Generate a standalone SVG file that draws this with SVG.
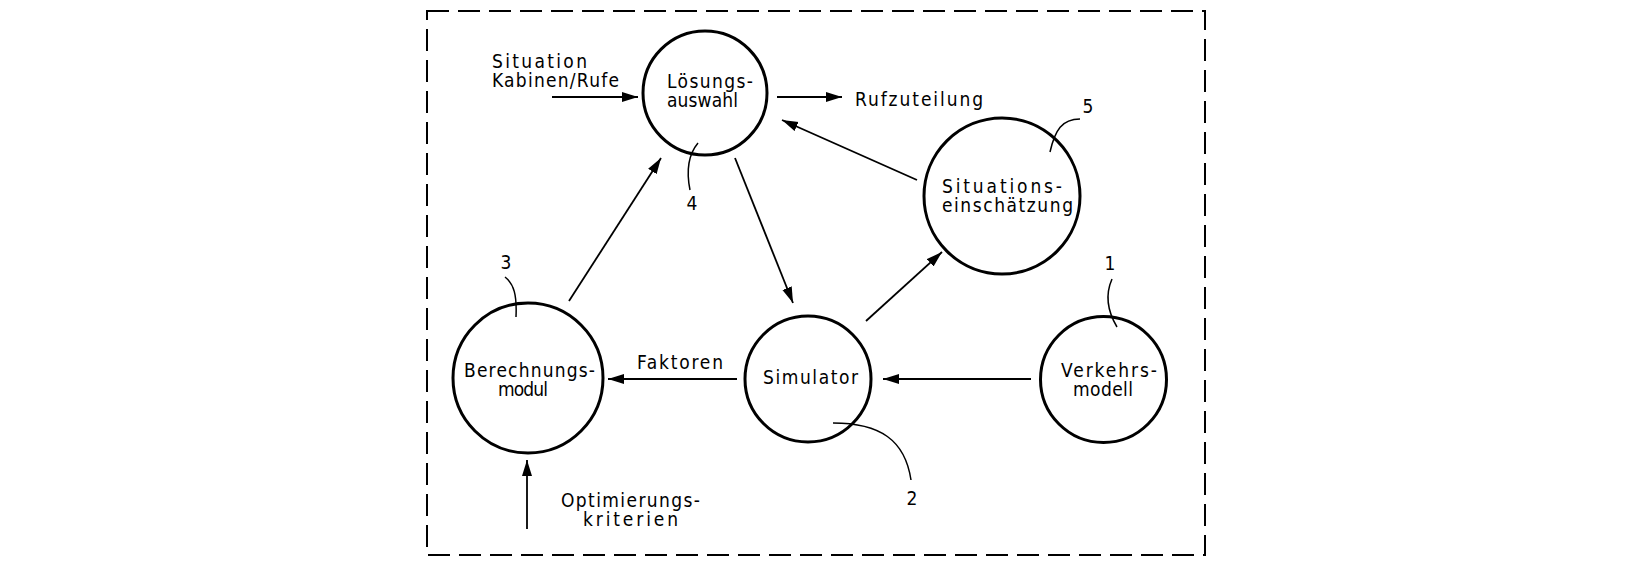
<svg xmlns="http://www.w3.org/2000/svg" width="1632" height="574" viewBox="0 0 1632 574">
<style>
.node{fill:none;stroke:#000;stroke-width:3}
.t{font-family:"DejaVu Sans Condensed","DejaVu Sans",sans-serif;font-size:19px;fill:#000}
.c{fill:none;stroke:#000;stroke-width:1.8}
.lead{fill:none;stroke:#000;stroke-width:1.5}
.frame{fill:none;stroke:#000;stroke-width:2;stroke-dasharray:22 9}
</style>
<defs>
<marker id="ah" markerUnits="userSpaceOnUse" markerWidth="18" markerHeight="12" refX="16" refY="5" orient="auto">
<path d="M0,0 L16,5 L0,10 Z" fill="#000"/>
</marker>
</defs>
<rect width="1632" height="574" fill="#fff"/>
<rect class="frame" x="427" y="11" width="778" height="544"/>

<g id="loesungsauswahl">
<circle class="node" cx="705" cy="93" r="62"/>
<text class="t" x="667" y="88" textLength="86" lengthAdjust="spacing">Lösungs-</text>
<text class="t" x="667" y="107" textLength="71" lengthAdjust="spacing">auswahl</text>
<path class="lead" d="M698,143 C688,155 686,170 690,190"/>
<text class="t" x="692" y="210" text-anchor="middle">4</text>
</g>

<g id="situationseinschaetzung">
<circle class="node" cx="1002" cy="196" r="78"/>
<text class="t" x="942" y="193" textLength="120" lengthAdjust="spacing">Situations-</text>
<text class="t" x="942" y="212" textLength="131" lengthAdjust="spacing">einschätzung</text>
<path class="lead" d="M1080,119 C1062,119 1055,130 1050,152"/>
<text class="t" x="1088" y="113" text-anchor="middle">5</text>
</g>

<g id="berechnungsmodul">
<circle class="node" cx="528" cy="378" r="75"/>
<text class="t" x="464" y="377" textLength="131" lengthAdjust="spacing">Berechnungs-</text>
<text class="t" x="498" y="396" textLength="50" lengthAdjust="spacing">modul</text>
<path class="lead" d="M505,277 C514,284 517,295 516,317"/>
<text class="t" x="506" y="269" text-anchor="middle">3</text>
</g>

<g id="simulator">
<circle class="node" cx="808" cy="379" r="63"/>
<text class="t" x="763" y="384" textLength="95" lengthAdjust="spacing">Simulator</text>
<path class="lead" d="M833,423 C880,423 905,440 911,480"/>
<text class="t" x="912" y="505" text-anchor="middle">2</text>
</g>

<g id="verkehrsmodell">
<circle class="node" cx="1103.5" cy="379.5" r="63"/>
<text class="t" x="1061" y="377" textLength="96" lengthAdjust="spacing">Verkehrs-</text>
<text class="t" x="1073" y="396" textLength="60" lengthAdjust="spacing">modell</text>
<path class="lead" d="M1112,279 C1105,295 1108,312 1117,327"/>
<text class="t" x="1110" y="270" text-anchor="middle">1</text>
</g>

<g id="labels">
<text class="t" x="492" y="68" textLength="95" lengthAdjust="spacing">Situation</text>
<text class="t" x="492" y="87" textLength="127" lengthAdjust="spacing">Kabinen/Rufe</text>
<text class="t" x="855" y="106" textLength="128" lengthAdjust="spacing">Rufzuteilung</text>
<text class="t" x="637" y="369" textLength="86" lengthAdjust="spacing">Faktoren</text>
<text class="t" x="561" y="507" textLength="139" lengthAdjust="spacing">Optimierungs-</text>
<text class="t" x="583" y="526" textLength="95" lengthAdjust="spacing">kriterien</text>
</g>

<g id="connectors">
<line class="c" x1="552" y1="97" x2="638" y2="97" marker-end="url(#ah)"/>
<line class="c" x1="777" y1="97" x2="842" y2="97" marker-end="url(#ah)"/>
<line class="c" x1="917" y1="180" x2="782" y2="120" marker-end="url(#ah)"/>
<line class="c" x1="735" y1="158" x2="793" y2="303" marker-end="url(#ah)"/>
<line class="c" x1="866" y1="321" x2="942" y2="252" marker-end="url(#ah)"/>
<line class="c" x1="569" y1="301" x2="661" y2="158" marker-end="url(#ah)"/>
<line class="c" x1="737" y1="379" x2="608" y2="379" marker-end="url(#ah)"/>
<line class="c" x1="1031" y1="379" x2="883" y2="379" marker-end="url(#ah)"/>
<line class="c" x1="527" y1="529" x2="527" y2="460" marker-end="url(#ah)"/>
</g>
</svg>
